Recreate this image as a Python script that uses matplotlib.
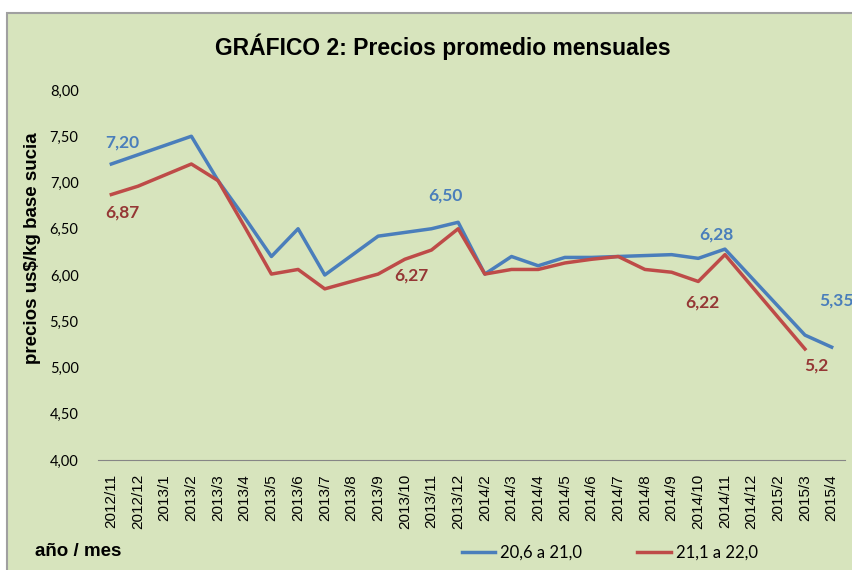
import matplotlib.pyplot as plt
from matplotlib.patches import Rectangle
from matplotlib.ticker import FuncFormatter

# data
meses = ['2012/11', '2012/12', '2013/1', '2013/2', '2013/3', '2013/4', '2013/5',
         '2013/6', '2013/7', '2013/8', '2013/9', '2013/10', '2013/11', '2013/12',
         '2014/2', '2014/3', '2014/4', '2014/5', '2014/6', '2014/7', '2014/8',
         '2014/9', '2014/10', '2014/11', '2014/12', '2015/2', '2015/3', '2015/4']
serie_a = [7.20, 7.30, 7.40, 7.50, 7.02, 6.62, 6.20, 6.50, 6.00, 6.21, 6.42,
           6.46, 6.50, 6.57, 6.01, 6.20, 6.10, 6.19, 6.19, 6.20, 6.21, 6.22,
           6.18, 6.28, 5.97, 5.66, 5.35, 5.22]
serie_b = [6.87, 6.96, 7.08, 7.20, 7.02, 6.52, 6.01, 6.06, 5.85, 5.93, 6.01,
           6.17, 6.27, 6.50, 6.01, 6.06, 6.06, 6.13, 6.17, 6.20, 6.06, 6.03,
           5.93, 6.22, 5.88, 5.54, 5.20, None]
nombre_a = '20,6 a 21,0'
nombre_b = '21,1 a 22,0'

azul = '#4A7EBB'
rojo = '#BE4B48'
fondo = '#D7E4BD'
calibri = ['Lato', 'DejaVu Sans']
arial = ['Liberation Sans', 'DejaVu Sans']

fig = plt.figure(figsize=(8.53, 5.70), dpi=100, facecolor='white')
fig.patches.append(Rectangle((7 / 853, -0.05), 1.1, 1 - 13 / 570 + 0.05,
                             transform=fig.transFigure, facecolor=fondo,
                             edgecolor='#A0A0A0', linewidth=1.5, zorder=-10))

ax = fig.add_axes([98 / 853, 110 / 570, 747 / 853, 370 / 570])
ax.set_facecolor('none')

x = list(range(len(meses)))
xb = [i for i, v in zip(x, serie_b) if v is not None]
yb = [v for v in serie_b if v is not None]
ax.plot(x, serie_a, color=azul, linewidth=2.5, label=nombre_a)
ax.plot(xb, yb, color=rojo, linewidth=2.5, label=nombre_b)

ax.set_xlim(-0.5, len(meses) - 0.5)
ax.set_ylim(4, 8)
ax.set_yticks([4, 4.5, 5, 5.5, 6, 6.5, 7, 7.5, 8])
ax.yaxis.set_major_formatter(FuncFormatter(lambda v, p: f'{v:.2f}'.replace('.', ',')))
ax.set_xticks(x)
ax.set_xticklabels(meses, rotation=90, fontfamily=arial, fontsize=11)
for t in ax.get_yticklabels():
    t.set_fontfamily(calibri)
    t.set_fontsize(10.5)
ax.tick_params(axis='y', length=0, pad=14)
ax.tick_params(axis='x', length=0, pad=10)

for s in ['top', 'right', 'left']:
    ax.spines[s].set_visible(False)
ax.spines['bottom'].set_color('#868686')

# data labels
etiquetas = [
    (0, serie_a[0], '7,20', azul, (11, 21)),
    (0, serie_b[0], '6,87', '#953735', (11, -18)),
    (12, serie_a[12], '6,50', azul, (14, 33)),
    (12, serie_b[12], '6,27', '#953735', (-20, -25)),
    (23, serie_a[23], '6,28', azul, (-9, 15)),
    (23, serie_b[23], '6,22', '#953735', (-23, -48)),
    (26, serie_a[26], '5,35', azul, (31, 35)),
    (26, serie_b[26], '5,2', '#953735', (11, -17)),
]
for xi, yi, txt, col, off in etiquetas:
    ax.annotate(txt, (xi, yi), xytext=off, textcoords='offset pixels',
                ha='center', va='center', color=col, fontsize=12.5,
                fontweight='bold', fontfamily=calibri, annotation_clip=False)

fig.text(443 / 853, 1 - 47 / 570, 'GRÁFICO 2: Precios promedio mensuales',
         ha='center', va='center', fontsize=16.5, fontweight='bold',
         fontfamily=arial)
fig.text(33 / 853, 1 - 248 / 570, 'precios us$/kg base sucia', rotation=90,
         ha='center', va='center', fontsize=13.5, fontweight='bold', fontfamily=arial)
fig.text(35 / 853, 1 - 552 / 570, 'año / mes', ha='left', va='center',
         fontsize=13.5, fontweight='bold', fontfamily=arial)

leg = fig.legend(loc='center left', bbox_to_anchor=(447 / 853, 1 - 553 / 570),
                 ncol=2, frameon=False, handlelength=2.0, columnspacing=3.3,
                 handletextpad=0.3, prop={'family': calibri, 'size': 12})

fig.savefig('out.png', dpi=100, facecolor='white')
